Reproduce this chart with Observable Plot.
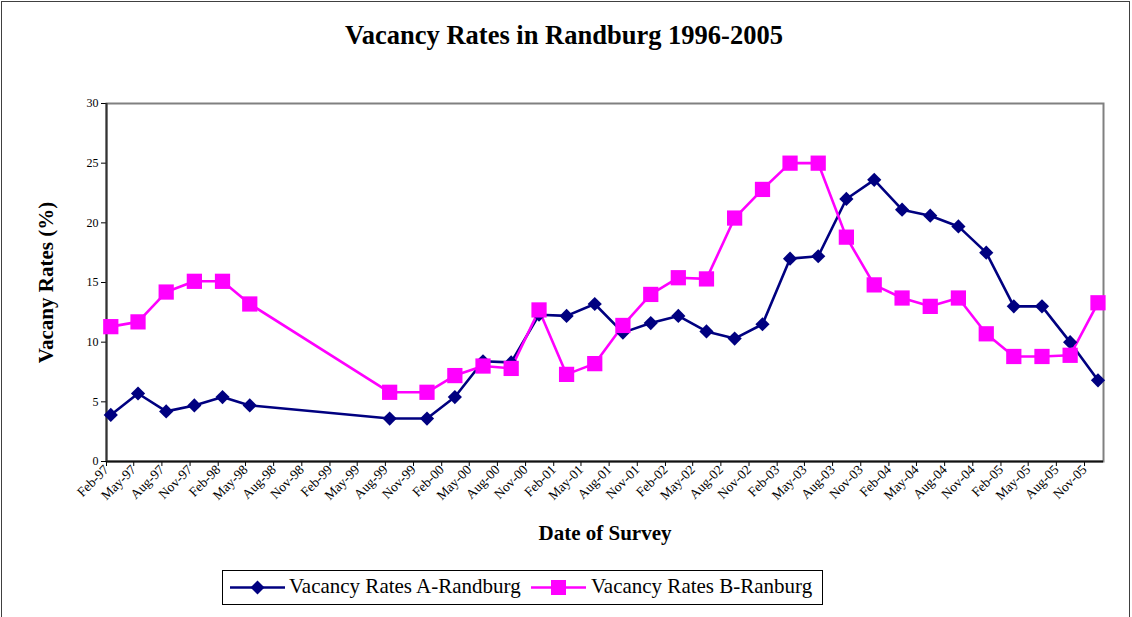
<!DOCTYPE html>
<html>
<head>
<meta charset="utf-8">
<script src="https://cdn.jsdelivr.net/npm/d3@7"></script>
<script src="https://cdn.jsdelivr.net/npm/@observablehq/plot@0.6"></script>
<style>
  html, body { margin: 0; padding: 0; background: #fff; }
  body { font-family: "Liberation Serif", "Times New Roman", serif; color: #000; }
  #wrap { position: relative; width: 1132px; height: 617px; overflow: hidden; background: #fff; }
  #border { position: absolute; left: 1px; top: 1px; width: 1127px; height: 800px; border: 1px solid #404040; }
  #title { position: absolute; left: 0; top: 22px; width: 1128px; text-align: center; font-weight: bold; font-size: 26.5px; line-height: 1; white-space: nowrap; }
  #chart { position: absolute; left: 0; top: 0; }
  #legend { position: absolute; left: 222px; top: 570px; width: 599px; height: 33px; border: 1px solid #000; background: #fff; font-size: 21px; }
  #legend svg { position: absolute; top: 0; }
  #legend span { position: absolute; top: 5px; white-space: nowrap; line-height: 1; }
</style>
</head>
<body>
<div id="wrap">
  <div id="border"></div>
  <div id="chart"></div>
  <div id="title">Vacancy Rates in Randburg 1996-2005</div>
  <div id="legend"></div>
</div>
<script>
// ---- data ----
const tickLabels = [
  "Feb-97","May-97","Aug-97","Nov-97","Feb-98","May-98","Aug-98","Nov-98",
  "Feb-99","May-99","Aug-99","Nov-99","Feb-00","May-00","Aug-00","Nov-00",
  "Feb-01","May-01","Aug-01","Nov-01","Feb-02","May-02","Aug-02","Nov-02",
  "Feb-03","May-03","Aug-03","Nov-03","Feb-04","May-04","Aug-04","Nov-04",
  "Feb-05","May-05","Aug-05","Nov-05"
];
const surveyDates = [
  "1997-02-15","1997-05-15","1997-08-15","1997-11-15","1998-02-15","1998-05-15",
  "1999-08-15","1999-12-15",
  "2000-03-15","2000-06-15","2000-09-15","2000-12-15",
  "2001-03-15","2001-06-15","2001-09-15","2001-12-15",
  "2002-03-15","2002-06-15","2002-09-15","2002-12-15",
  "2003-03-15","2003-06-15","2003-09-15","2003-12-15",
  "2004-03-15","2004-06-15","2004-09-15","2004-12-15",
  "2005-03-15","2005-06-15","2005-09-15","2005-12-15"
];
const ratesA = [
  3.9, 5.7, 4.2, 4.7, 5.4, 4.7,
  3.6, 3.6,
  5.4, 8.4, 8.3, 12.3,
  12.2, 13.2, 10.8, 11.6,
  12.2, 10.9, 10.3, 11.5,
  17.0, 17.2, 22.0, 23.6,
  21.1, 20.6, 19.7, 17.5,
  13.0, 13.0, 10.0, 6.8
];
const ratesB = [
  11.3, 11.7, 14.2, 15.1, 15.1, 13.2,
  5.8, 5.8,
  7.2, 8.0, 7.8, 12.7,
  7.3, 8.2, 11.4, 14.0,
  15.4, 15.3, 20.4, 22.8,
  25.0, 25.0, 18.8, 14.8,
  13.7, 13.0, 13.7, 10.7,
  8.8, 8.8, 8.9, 13.3
];
const yTicks = [0, 5, 10, 15, 20, 25, 30];
const seriesNames = ["Vacancy Rates A-Randburg", "Vacancy Rates B-Ranburg"];
const seriesColors = ["#000080", "#FF00FF"];
const xAxisTitle = "Date of Survey";
const yAxisTitle = "Vacany Rates (%)";
const xDomainEnd = "2006-01-02";

// ---- build tables ----
const parseDay = d3.utcParse("%Y-%m-%d");
const parseTick = d3.utcParse("%b-%y");
const tickDates = tickLabels.map(parseTick);
const dataA = surveyDates.map((d, i) => ({date: parseDay(d), rate: ratesA[i]}));
const dataB = surveyDates.map((d, i) => ({date: parseDay(d), rate: ratesB[i]}));
const fmt = d3.utcFormat("%b-%y");
const serif = '"Liberation Serif", "Times New Roman", serif';

const chart = Plot.plot({
  width: 1132,
  height: 617,
  marginTop: 103,
  marginLeft: 106,
  marginRight: 29,
  marginBottom: 156,
  style: {fontFamily: serif, fontSize: "12px", color: "#000", background: "transparent", overflow: "visible"},
  x: {type: "utc", domain: [tickDates[0], parseDay(xDomainEnd)], label: null},
  y: {domain: [0, 30], label: null},
  marks: [
    Plot.frame({stroke: "#808080", strokeWidth: 2}),
    Plot.axisY({ticks: yTicks, tickSize: 5, tickPadding: 3, label: null, stroke: "#000", fontSize: 12, fontFamily: serif}),
    Plot.axisX({ticks: tickDates, tickFormat: d => fmt(d), tickRotate: -45, tickSize: 5, tickPadding: 1, label: null, stroke: "#000", fontSize: 13.5, fontFamily: serif}),
    Plot.ruleY([0], {stroke: "#111", strokeWidth: 2}),
    Plot.ruleX([tickDates[0]], {stroke: "#333", strokeWidth: 2}),
    Plot.line(dataA, {x: "date", y: "rate", stroke: seriesColors[0], strokeWidth: 2.6}),
    Plot.line(dataB, {x: "date", y: "rate", stroke: seriesColors[1], strokeWidth: 2.6}),
    Plot.dot(dataA, {x: "date", y: "rate", symbol: "diamond2", r: 6.4, fill: seriesColors[0], stroke: "none"}),
    Plot.dot(dataB, {x: "date", y: "rate", symbol: "square", r: 8.6, fill: seriesColors[1], stroke: "none"}),
    Plot.text([xAxisTitle], {text: d => d, frameAnchor: "bottom", dy: 72, fontSize: 21, fontWeight: "bold", lineAnchor: "middle", textAnchor: "middle", fill: "#000", fontFamily: serif}),
    Plot.text([yAxisTitle], {text: d => d, frameAnchor: "left", dx: -60, rotate: -90, fontSize: 21, fontWeight: "bold", lineAnchor: "middle", textAnchor: "middle", fill: "#000", fontFamily: serif})
  ]
});
document.getElementById("chart").appendChild(chart);

// ---- legend ----
const legend = document.getElementById("legend");
const legendItems = [
  {name: seriesNames[0], color: seriesColors[0], shape: "diamond", left: 7, textLeft: 66},
  {name: seriesNames[1], color: seriesColors[1], shape: "square", left: 308, textLeft: 368}
];
for (const it of legendItems) {
  const ns = "http://www.w3.org/2000/svg";
  const svg = document.createElementNS(ns, "svg");
  svg.setAttribute("width", 56);
  svg.setAttribute("height", 33);
  svg.style.left = it.left + "px";
  const line = document.createElementNS(ns, "line");
  line.setAttribute("x1", 0); line.setAttribute("x2", 55);
  line.setAttribute("y1", 16.5); line.setAttribute("y2", 16.5);
  line.setAttribute("stroke", it.color); line.setAttribute("stroke-width", 2.5);
  svg.appendChild(line);
  const p = document.createElementNS(ns, "path");
  if (it.shape === "diamond") p.setAttribute("d", "M27.5,9.5L34.5,16.5L27.5,23.5L20.5,16.5Z");
  else p.setAttribute("d", "M20,9H35V24H20Z");
  p.setAttribute("fill", it.color);
  svg.appendChild(p);
  legend.appendChild(svg);
  const span = document.createElement("span");
  span.textContent = it.name;
  span.style.left = it.textLeft + "px";
  legend.appendChild(span);
}
</script>
</body>
</html>
